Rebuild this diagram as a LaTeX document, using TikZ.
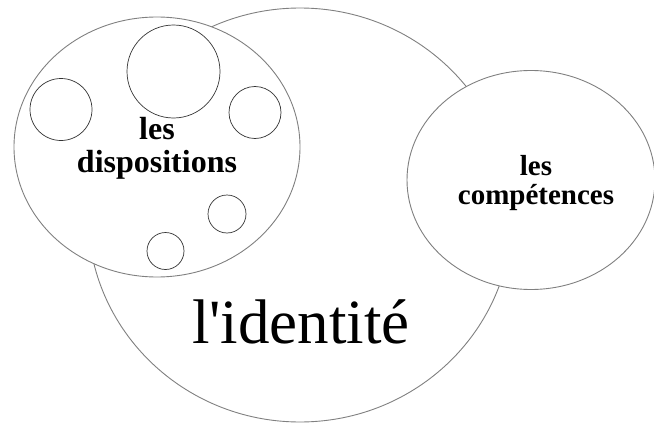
\documentclass[tikz,border=0pt]{standalone}
\usepackage{fontspec}
\setmainfont{Liberation Serif}
\newfontfamily\identitefont{Liberation Serif}
\usetikzlibrary{shapes.geometric}

\tikzset{
  bulle/.style={ellipse,draw=black!50,fill=white,line width=0.9pt,inner sep=0pt},
  pastille/.style={circle,draw=black!80,line width=0.7pt,inner sep=0pt},
  titre/.style={align=center,inner sep=0pt,font=\bfseries\fontsize{32}{33}\selectfont}
}

\begin{document}
\begin{tikzpicture}[x=1pt,y=-1pt]
  \useasboundingbox (0,0) rectangle (654,423);
  % grand cercle
  \node[bulle,minimum width=424,minimum height=414] (identite) at (300,215) {};
  \node[inner sep=0pt,anchor=base,font=\identitefont\fontsize{63}{63}\selectfont] (identitetxt) at (301,343) {l'identité};
  % dispositions
  \node[bulle,minimum width=286,minimum height=260] (dispo) at (157,147) {};
  \node[titre] (dispotxt) at (157,148) {les\\dispositions};
  \node[pastille,minimum size=93] (p1) at (173.5,71.5) {};
  \node[pastille,minimum size=62] (p2) at (61,109.5) {};
  \node[pastille,minimum size=52] (p3) at (255,112.5) {};
  \node[pastille,minimum size=38] (p4) at (227,214) {};
  \node[pastille,minimum size=37] (p5) at (165.5,251) {};
  % competences
  \node[bulle,minimum width=248,minimum height=219] (compet) at (531,180) {};
  \node[titre,font=\bfseries\fontsize{29}{29}\selectfont] (competxt) at (536,183) {les\\compétences};
\end{tikzpicture}
\end{document}
